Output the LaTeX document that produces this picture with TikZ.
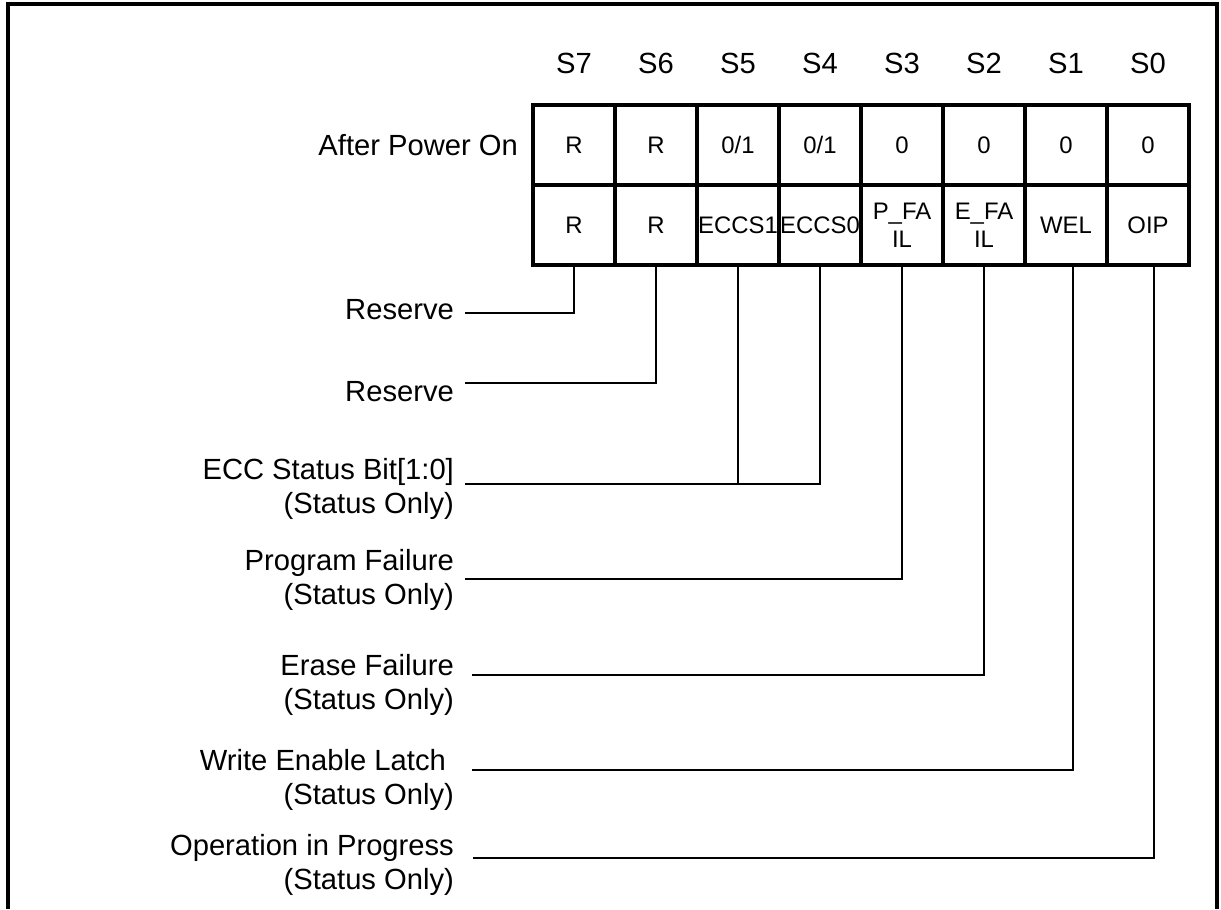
\documentclass[tikz,border=0pt]{standalone}
\usepackage{fontspec}
\setmainfont{Liberation Sans}
\usetikzlibrary{positioning}

\begin{document}
\begin{tikzpicture}[line width=0.65pt,node distance=0pt,
  cell/.style={draw,line width=1.2pt,minimum width=0.82cm,minimum height=0.80cm,inner sep=0pt,outer sep=0pt,align=center,font=\fontsize{6.8}{8}\selectfont},
  hdr/.style={inner sep=0pt,font=\fontsize{8.3}{9.7}\selectfont},
  lbl/.style={inner sep=0pt,anchor=east,align=right,font=\fontsize{8.3}{9.7}\selectfont}]
  \useasboundingbox (0,0) rectangle (12.21,-9.09);
  \draw[line width=0.9pt] (0.08,-9.09) |- (12.17,-0.04) -- (12.17,-9.09);
  % values after power on
  \node[cell] (v7) at (5.74,-1.45) {R};
  \node[cell,right=of v7] (v6) {R};
  \node[cell,right=of v6] (v5) {0/1};
  \node[cell,right=of v5] (v4) {0/1};
  \node[cell,right=of v4] (v3) {0};
  \node[cell,right=of v3] (v2) {0};
  \node[cell,right=of v2] (v1) {0};
  \node[cell,right=of v1] (v0) {0};
  % bit names
  \node[cell,below=of v7] (b7) {R};
  \node[cell,below=of v6] (b6) {R};
  \node[cell,below=of v5] (b5) {ECCS1};
  \node[cell,below=of v4] (b4) {ECCS0};
  \node[cell,below=of v3] (b3) {P\_FA\\IL};
  \node[cell,below=of v2] (b2) {E\_FA\\IL};
  \node[cell,below=of v1] (b1) {WEL};
  \node[cell,below=of v0] (b0) {OIP};
  % bit numbers
  \node[hdr] (s7) at (v7 |- 0,-0.63) {S7};
  \node[hdr] (s6) at (v6 |- s7) {S6};
  \node[hdr] (s5) at (v5 |- s7) {S5};
  \node[hdr] (s4) at (v4 |- s7) {S4};
  \node[hdr] (s3) at (v3 |- s7) {S3};
  \node[hdr] (s2) at (v2 |- s7) {S2};
  \node[hdr] (s1) at (v1 |- s7) {S1};
  \node[hdr] (s0) at (v0 |- s7) {S0};
  \node[lbl,left=0.14cm of v7] (apo) {After Power On};
  % descriptions
  \node[lbl] (lres7) at (4.55,-3.10) {Reserve};
  \node[lbl] (lres6) at (4.55,-3.92) {Reserve};
  \node[lbl] (lecc) at (4.55,-4.89) {ECC Status Bit[1:0]\\(Status Only)};
  \node[lbl] (lpf) at (4.55,-5.795) {Program Failure\\(Status Only)};
  \node[lbl] (lef) at (4.55,-6.85) {Erase Failure\\(Status Only)};
  \node[lbl] (lwel) at (4.55,-7.80) {Write Enable Latch\hspace*{0.08cm}\\(Status Only)};
  \node[lbl] (loip) at (4.55,-8.65) {Operation in Progress\\(Status Only)};
  \coordinate (c7) at (4.65,-3.13);
  \coordinate (c6) at (4.65,-3.83);
  \coordinate (c5) at (4.65,-4.84);
  \coordinate (c3) at (4.65,-5.79);
  \coordinate (c2) at (4.72,-6.75);
  \coordinate (c1) at (4.72,-7.70);
  \coordinate (c0) at (4.73,-8.58);
  \draw (b7.south) |- (c7);
  \draw (b6.south) |- (c6);
  \draw (c5) -| (b4.south); \draw (b5.south) -- (b5.south |- c5);
  \draw (b3.south) |- (c3);
  \draw (b2.south) |- (c2);
  \draw ([xshift=0.07cm]b1.south) |- (c1);
  \draw ([xshift=0.06cm]b0.south) |- (c0);
\end{tikzpicture}
\end{document}
